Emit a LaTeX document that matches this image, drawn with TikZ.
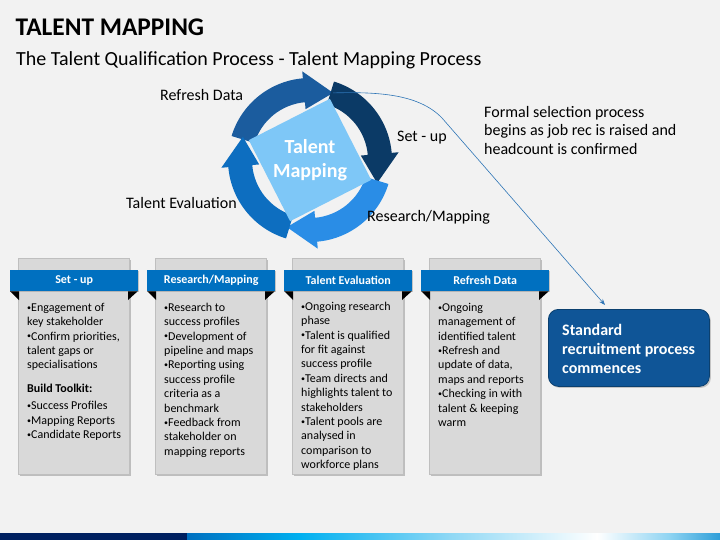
\documentclass[tikz,border=0pt]{standalone}
\usepackage{fontspec}
\setmainfont{Carlito}
\usetikzlibrary{shadows,calc,arrows.meta}
\definecolor{bg}{HTML}{F2F2F2}
\definecolor{arcR}{HTML}{1B5C9E}
\definecolor{arcS}{HTML}{0B3A66}
\definecolor{arcM}{HTML}{2A8DE6}
\definecolor{arcE}{HTML}{0D6EC0}
\definecolor{sqc}{HTML}{7EC7F7}
\definecolor{bannerc}{HTML}{0070C0}
\definecolor{panelc}{HTML}{D9D9D9}
\definecolor{panelb}{HTML}{BFBFBF}
\definecolor{stdc}{HTML}{0F5597}
\definecolor{stdb}{HTML}{0B406F}
\definecolor{connc}{HTML}{2E75B6}
\definecolor{navy}{HTML}{002060}
\newcommand\cardbul{{\fontsize{8}{8}\selectfont\raisebox{1.2pt}{•}}}
\tikzset{
  lab/.style={anchor=base west, inner sep=0, font=\fontsize{16}{19}\selectfont},
  panel/.style={fill=panelc, draw=panelb, line width=0.4pt, anchor=north west,
    minimum width=111pt, minimum height=216pt, inner sep=0,
    drop shadow={shadow xshift=1.5pt, shadow yshift=-1.5pt, opacity=0.45}},
  banner/.style={fill=bannerc, anchor=north west, minimum width=128pt, minimum height=21pt,
    inner sep=0, text=white, font=\fontsize{12}{14}\selectfont\bfseries,
    drop shadow={shadow xshift=1pt, shadow yshift=-1pt, opacity=0.4}},
  body/.style={anchor=north west, inner sep=0, align=left, font=\fontsize{12}{14.4}\selectfont},
  conn/.style={connc, line width=0.6pt, -{Stealth[length=6pt,width=4.5pt]}},
}
\begin{document}
\begin{tikzpicture}[x=1pt,y=-1pt]
\useasboundingbox (0,0) rectangle (720,540);
\fill[bg] (0,0) rectangle (720,540);

% titles
\node[anchor=base west, inner sep=0, font=\fontsize{25.4}{30}\selectfont\bfseries] (title) at (15.5,36) {TALENT MAPPING};
\node[anchor=base west, inner sep=0, font=\fontsize{20}{24}\selectfont] (sub) at (16,66) {The Talent Qualification Process - Talent Mapping Process};

% bottom bar
\fill[navy] (0,533) rectangle (187,540);
\shade[left color=bannerc, right color={rgb,255:red,0;green,176;blue,240}] (187,533) rectangle (300.5,540);
\shade[left color={rgb,255:red,0;green,176;blue,240}, right color={rgb,255:red,143;green,216;blue,245}] (300,533) rectangle (450.5,540);
\shade[left color={rgb,255:red,143;green,216;blue,245}, right color=white] (450,533) rectangle (597.5,540);
\shade[left color=white, right color={rgb,255:red,141;green,211;blue,242}] (597,533) rectangle (670.5,540);
\shade[left color={rgb,255:red,141;green,211;blue,242}, right color={rgb,255:red,46;green,158;blue,216}] (670,533) rectangle (720,540);

% cycle
\coordinate (cc) at (310,160);
\foreach \col/\tp in {arcR/71, arcS/-19, arcM/-109, arcE/161}{
  \pgfmathsetmacro\as{-(\tp+92)}
  \pgfmathsetmacro\ab{-(\tp+24)}
  \pgfmathsetmacro\at{-\tp}
  \fill[\col] ($(cc)+(\as:82)$) arc[start angle=\as, end angle=\ab, radius=82]
    -- ($(cc)+(\ab:89)$) -- ($(cc)+(\at:71)$) -- ($(cc)+(\ab:51)$) -- ($(cc)+(\ab:58)$)
    arc[start angle=\ab, end angle=\as, radius=58] -- cycle;
}
\node[fill=sqc, minimum size=91pt, inner sep=0, rotate=27] (sq) at (cc) {};
\node[text=white, align=center, inner sep=0, font=\fontsize{20}{24}\selectfont\bfseries] (tm) at (310,160) {Talent\\Mapping};

\node[lab] (lrd) at (160,101) {Refresh Data};
\node[lab] (lsu) at (397,142) {Set - up};
\node[lab] (lte) at (126,208) {Talent Evaluation};
\node[lab] (lrm) at (367,222) {Research/Mapping};

\node[anchor=north west, inner sep=0, align=left, font=\fontsize{16}{18.7}\selectfont] (formal) at (484,104) {\strut Formal selection process\\begins as job rec is raised and\\headcount is confirmed};

% standard box
\node[fill=stdc, draw=stdb, line width=0.8pt, rounded corners=10pt, anchor=north west,
  minimum width=161pt, minimum height=77pt, inner sep=0,
  drop shadow={shadow xshift=1.5pt, shadow yshift=-1.5pt, opacity=0.4}] (std) at (548,309) {};
\node[anchor=north west, inner sep=0, align=left, text=white, font=\fontsize{16}{19}\selectfont\bfseries] (stdt) at (562,321.7) {\strut Standard\\recruitment process\\commences};

% connector
\coordinate (cs) at ($(cc)+(-71:71)$);
\draw[conn] (cs) .. controls (375,92) and (418,93) .. (442,118) -- ($(std.north west)+(57,-4)$);

% cards
\foreach \k/\hd in {0/Set - up, 1/Research\slash Mapping, 2/Talent Evaluation, 3/Refresh Data}{
  \pgfmathsetmacro\xo{18+137*\k}
  \node[panel] (p\k) at (\xo,258) {};
  \fill (\xo-8,291) -- (\xo+1,291) -- (\xo+1,300) -- cycle;
  \fill (\xo+111-1,291) -- (\xo+120,291) -- (\xo+111-1,300) -- cycle;
  \node[banner] (b\k) at (\xo-8,270) {\hd};
}
\node[body] (t0) at (27,301) {\strut\cardbul Engagement of\\key stakeholder\\\cardbul Confirm priorities,\\talent gaps or\\specialisations\\[9.6pt]\textbf{Build Toolkit:}\\[2.6pt]\cardbul Success Profiles\\\cardbul Mapping Reports\\\cardbul Candidate Reports};
\node[body] (t1) at (164,301) {\strut\cardbul Research to\\success profiles\\\cardbul Development of\\pipeline and maps\\\cardbul Reporting using\\success profile\\criteria as a\\benchmark\\\cardbul Feedback from\\stakeholder on\\mapping reports};
\node[body] (t2) at (301,300) {\strut\cardbul Ongoing research\\phase\\\cardbul Talent is qualified\\for fit against\\success profile\\\cardbul Team directs and\\highlights talent to\\stakeholders\\\cardbul Talent pools are\\analysed in\\comparison to\\workforce plans};
\node[body] (t3) at (438,301) {\strut\cardbul Ongoing\\management of\\identified talent\\\cardbul Refresh and\\update of data,\\maps and reports\\\cardbul Checking in with\\talent \& keeping\\warm};
\end{tikzpicture}
\end{document}
